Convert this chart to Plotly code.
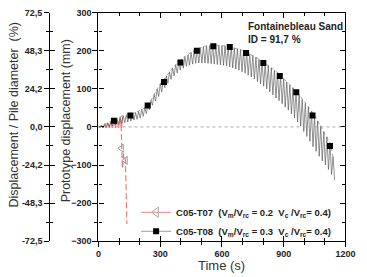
import numpy as np
import plotly.graph_objects as go

# ---------------- data ----------------
# C05-T08 oscillation: peak values every 15 s starting at 0 s, trough values every 15 s starting at 7.5 s
t08_peak = [0, 4, 8, 11, 14, 18, 22, 26, 30, 31, 32, 34, 38, 41, 46, 51, 58, 70, 85, 100,
            113, 123, 134, 145, 155, 163, 171, 178, 185, 190, 196, 201, 205, 208, 211, 213,
            214, 215, 215, 214, 214, 213, 212, 210, 208, 206, 203, 200, 196, 192, 188, 183,
            178, 174, 168, 162, 155, 149, 143, 136, 127, 118, 110, 103, 95, 85, 73, 62, 53,
            42, 30, 16, 3, -12, -26, -42, -78]
t08_trough = [-1, -2, -1, 1, 3, 5, 7, 9, 11, 13, 15, 18, 20, 23, 28, 35, 45, 57, 68, 80,
              92, 103, 115, 125, 134, 142, 149, 154, 159, 162, 165, 167, 168, 168, 168, 167,
              166, 165, 164, 163, 162, 160, 158, 155, 152, 149, 145, 141, 136, 131, 126, 119,
              113, 107, 100, 92, 84, 76, 69, 61, 52, 44, 34, 24, 13, 2, -12, -25, -38, -52,
              -64, -77, -89, -100, -112, -125, -140]
t08_peak_time = [15 * i for i in range(len(t08_peak))]
t08_trough_time = [7.5 + 15 * i for i in range(len(t08_trough))]

# C05-T08 square markers
t08_mk_time = [75, 155, 239, 318, 398, 478, 558, 638, 717, 801, 881, 961, 1040, 1125]
t08_mk_val = [16, 30, 56, 118, 169, 200, 212, 210, 194, 168, 134, 91, 30, -50]

# C05-T07 oscillation before failure
t07_peak = [0, 3, 6, 9, 12, 15, 18, 22, 26]
t07_trough = [-2, -3, -3, -3, -3, -3, -3, -3]
t07_peak_time = [0, 15, 30, 45, 60, 75, 90, 105, 118]
t07_trough_time = [7.5, 22.5, 37.5, 52.5, 67.5, 82.5, 97.5, 111.5]
# C05-T07 plunge
t07_drop_time = [110, 112, 116, 122, 131, 134, 138]
t07_drop_val = [5, -56, -110, -70, -88, -160, -255]
t07_mk_time = [112, 131]
t07_mk_val = [-56, -88]

x_ticks = [0, 300, 600, 900, 1200]
y_ticks = [-300, -200, -100, 0, 100, 200, 300]
pct_ticks = [72.5, 48.33, 24.17, 0, -24.17, -48.33, -72.5]
pct_labels = ["72,5", "48,3", "24,2", "0,0", "-24,2", "-48,3", "-72,5"]

legend_07 = "C05-T07&nbsp;&nbsp;(V<sub>m</sub>/V<sub>rc</sub> = 0.2&nbsp;&nbsp;V<sub>c</sub> /V<sub>rc</sub>= 0.4)"
legend_08 = "C05-T08&nbsp;&nbsp;(V<sub>m</sub>/V<sub>rc</sub> = 0.3&nbsp;&nbsp;V<sub>c</sub> /V<sub>rc</sub>= 0.4)"


def zigzag(pt, pv, tt, tv):
    xs, ys = [], []
    for i in range(max(len(pt), len(tt))):
        if i < len(pt):
            xs.append(pt[i]); ys.append(pv[i])
        if i < len(tt):
            xs.append(tt[i]); ys.append(tv[i])
    return xs, ys


FONT = "Liberation Sans, Arial, sans-serif"
fig = go.Figure()

# red hatch
rx, ry = zigzag(t07_peak_time, t07_peak, t07_trough_time, t07_trough)
fig.add_trace(go.Scatter(x=rx, y=ry, mode="lines", line=dict(color="#e8505a", width=0.8),
                         showlegend=False, hoverinfo="skip"))
fig.add_trace(go.Scatter(x=t07_drop_time, y=t07_drop_val, mode="lines",
                         line=dict(color="#f07070", width=1.1, dash="6px,3px"),
                         showlegend=False, hoverinfo="skip"))
fig.add_trace(go.Scatter(x=t07_mk_time, y=t07_mk_val, mode="markers",
                         marker=dict(symbol="triangle-left-open", size=7, color="#999999",
                                     line=dict(width=1)),
                         showlegend=False, hoverinfo="skip"))

# black hatch
bx, by = zigzag(t08_peak_time, t08_peak, t08_trough_time, t08_trough)
fig.add_trace(go.Scatter(x=bx, y=by, mode="lines", line=dict(color="#4a4a4a", width=0.6),
                         showlegend=False, hoverinfo="skip"))
fig.add_trace(go.Scatter(x=t08_peak_time, y=t08_peak, mode="lines",
                         line=dict(color="#888888", width=0.8, dash="dot"),
                         showlegend=False, hoverinfo="skip"))
fig.add_trace(go.Scatter(x=t08_mk_time, y=t08_mk_val, mode="markers",
                         marker=dict(symbol="square", size=6, color="black"),
                         showlegend=False, hoverinfo="skip"))

# legend entries
fig.add_trace(go.Scatter(x=[None], y=[None], mode="lines+markers", name=legend_07,
                         line=dict(color="#f08080", width=1),
                         marker=dict(symbol="triangle-left-open", size=9, color="#aaaaaa")))
fig.add_trace(go.Scatter(x=[None], y=[None], mode="lines+markers", name=legend_08,
                         line=dict(color="#999999", width=1),
                         marker=dict(symbol="square", size=6, color="black")))

# dummy traces for overlay axes
fig.add_trace(go.Scatter(x=[None], y=[None], xaxis="x2", yaxis="y", showlegend=False))
fig.add_trace(go.Scatter(x=[None], y=[None], xaxis="x", yaxis="y2", showlegend=False))
fig.add_trace(go.Scatter(x=[None], y=[None], xaxis="x", yaxis="y3", showlegend=False))
fig.add_trace(go.Scatter(x=[None], y=[None], xaxis="x", yaxis="y4", showlegend=False))

W, H = 367, 277
xd = [99 / W, 355 / W]
yd = [1 - 245 / H, 1 - 8 / H]
tickfont = dict(family=FONT, size=9, color="#222", weight="bold")
axcommon = dict(showgrid=False, zeroline=False, showline=True, linecolor="black", linewidth=1.2,
                tickcolor="black", tickwidth=1.2)
pct_minor = [60.42, 36.25, 12.08, -12.08, -36.25, -60.42]

fig.update_layout(
    width=W, height=H, margin=dict(l=0, r=0, t=0, b=0),
    paper_bgcolor="white", plot_bgcolor="white",
    font=dict(family=FONT),
    xaxis=dict(domain=xd, range=[0, 1200], tickvals=x_ticks, ticks="inside", ticklen=5,
               mirror="ticks", tickfont=tickfont, anchor="y", ticklabelstandoff=4,
               minor=dict(ticks="inside", dtick=100, ticklen=3, tickcolor="black", tickwidth=1),
               **axcommon),
    xaxis2=dict(domain=xd, range=[0, 1200], overlaying="x", anchor="y", side="bottom",
                tickvals=x_ticks, ticks="outside", ticklen=5, showticklabels=False,
                minor=dict(ticks="outside", dtick=100, ticklen=3, tickcolor="black", tickwidth=1),
                **axcommon),
    yaxis=dict(domain=yd, range=[-300, 300], tickvals=y_ticks, ticks="inside", ticklen=5,
               mirror="ticks", tickfont=tickfont, anchor="x", ticklabelstandoff=4,
               minor=dict(ticks="inside", dtick=50, ticklen=3, tickcolor="black", tickwidth=1),
               **axcommon),
    yaxis2=dict(domain=yd, range=[-300, 300], overlaying="y", anchor="x", side="left",
                tickvals=y_ticks, ticks="outside", ticklen=5, showticklabels=False,
                minor=dict(ticks="outside", dtick=50, ticklen=3, tickcolor="black", tickwidth=1),
                **axcommon),
    yaxis3=dict(domain=yd, range=[-72.5, 72.5], overlaying="y", anchor="free", position=48 / W,
                side="left", tickvals=pct_ticks, ticktext=pct_labels, ticks="outside", ticklen=5,
                tickfont=tickfont,
                minor=dict(ticks="outside", tickvals=pct_minor,
                           ticklen=3, tickcolor="black", tickwidth=1),
                **axcommon),
    yaxis4=dict(domain=yd, range=[-72.5, 72.5], overlaying="y", anchor="free", position=48 / W,
                side="left", tickvals=pct_ticks, ticks="inside", ticklen=5, showticklabels=False,
                minor=dict(ticks="inside", tickvals=pct_minor,
                           ticklen=3, tickcolor="black", tickwidth=1),
                **axcommon),
    legend=dict(x=138 / W, y=1 - 200 / H, xanchor="left", yanchor="top",
                bgcolor="rgba(0,0,0,0)",
                font=dict(family=FONT, size=9.5, color="#222", weight="bold"),
                tracegroupgap=0, itemwidth=30),
    shapes=[dict(type="line", xref="x domain", yref="y", x0=0, x1=1, y0=0, y1=0,
                 line=dict(color="#aaaaaa", width=1, dash="dot"))],
    annotations=[
        dict(text="<b>Fontainebleau Sand</b>", xref="paper", yref="paper", x=252 / W, y=1 - 22 / H,
             xanchor="left", yanchor="middle", showarrow=False, font=dict(size=10, color="#222")),
        dict(text="<b>ID = 91,7 %</b>", xref="paper", yref="paper", x=252 / W, y=1 - 36 / H,
             xanchor="left", yanchor="middle", showarrow=False, font=dict(size=10, color="#222")),
        dict(text="Time (s)", xref="paper", yref="paper", x=227 / W, y=1 - 270 / H,
             xanchor="center", yanchor="middle", showarrow=False, font=dict(size=13, color="#333")),
        dict(text="Prototype displacement (mm)", xref="paper", yref="paper", x=65 / W, y=1 - 120 / H,
             textangle=-90, xanchor="center", yanchor="middle", showarrow=False,
             font=dict(size=12.5, color="#333")),
        dict(text="Displacement / Pile diameter  (%)", xref="paper", yref="paper", x=11 / W,
             y=1 - 114 / H, textangle=-90, xanchor="center", yanchor="middle", showarrow=False,
             font=dict(size=12.5, color="#333")),
    ],
)

fig.write_html("out.html")
